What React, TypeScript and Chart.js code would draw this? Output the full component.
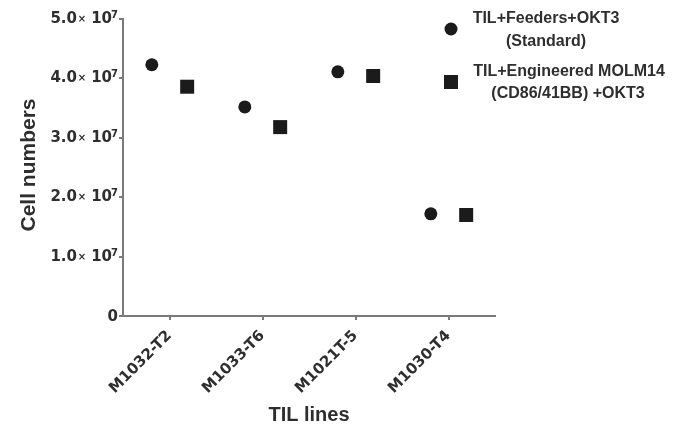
import React, { useEffect, useRef } from "react";
import { Chart, registerables } from "chart.js";

Chart.register(...registerables);

const categories = ["M1032-T2", "M1033-T6", "M1021T-5", "M1030-T4"];
const standardValues = [4.23e7, 3.52e7, 4.11e7, 1.72e7];
const engineeredValues = [3.86e7, 3.18e7, 4.04e7, 1.7e7];
const yTickValues = [0, 1e7, 2e7, 3e7, 4e7, 5e7];
const legendStandard = ["TIL+Feeders+OKT3", "(Standard)"];
const legendEngineered = ["TIL+Engineered MOLM14", "(CD86/41BB) +OKT3"];
const xTitle = "TIL lines";
const yTitle = "Cell numbers";

const FONT = '"Liberation Sans", Arial, sans-serif';
const TICKFONT = '"DejaVu Sans", sans-serif';
const TEXT = "#2e2e2e";
const AXIS = "#7a7a7a";
const MARK = "#1b1b1b";
const OFFSET = 0.19;

export default function App() {
  const ref = useRef<HTMLCanvasElement | null>(null);

  useEffect(() => {
    if (!ref.current) return;
    const overlay = {
      id: "overlay",
      afterDraw(chart: any) {
        const ctx = chart.ctx;
        ctx.save();
        ctx.fillStyle = TEXT;
        // y tick labels (mantissa x 10^7)
        const ys = chart.scales.y;
        const R = ys.right - 5;
        yTickValues.forEach((v) => {
          const ty = ys.getPixelForValue(v);
          ctx.textBaseline = "alphabetic";
          ctx.textAlign = "right";
          if (v === 0) {
            ctx.font = `bold 15px ${TICKFONT}`;
            ctx.fillText("0", R, ty + 5);
            return;
          }
          const mant = (v / 1e7).toFixed(1);
          ctx.font = `bold 10px ${TICKFONT}`;
          ctx.fillText("7", R, ty - 1);
          ctx.font = `bold 15px ${TICKFONT}`;
          ctx.fillText("10", R - 6, ty + 4);
          ctx.font = `bold 10px ${TICKFONT}`;
          ctx.textAlign = "center";
          ctx.fillText("\u00d7", R - 36, ty + 3);
          ctx.font = `bold 15px ${TICKFONT}`;
          ctx.textAlign = "right";
          ctx.fillText(mant, R - 41, ty + 4);
        });
        // y title
        ctx.font = `bold 21px ${FONT}`;
        ctx.textAlign = "center";
        ctx.textBaseline = "alphabetic";
        ctx.save();
        ctx.translate(35, 165);
        ctx.rotate(-Math.PI / 2);
        ctx.fillText(yTitle, 0, 0);
        ctx.restore();
        // x title
        ctx.font = `bold 20px ${FONT}`;
        ctx.fillText(xTitle, 309, 421);
        // legend
        ctx.fillStyle = MARK;
        ctx.beginPath();
        ctx.arc(451, 29, 6.5, 0, Math.PI * 2);
        ctx.fill();
        ctx.fillRect(444, 75, 14, 14);
        ctx.fillStyle = TEXT;
        ctx.font = `bold 16px ${FONT}`;
        ctx.textBaseline = "middle";
        ctx.fillText(legendStandard[0], 546, 19);
        ctx.fillText(legendStandard[1], 546, 42);
        ctx.fillText(legendEngineered[0], 569, 72);
        ctx.fillText(legendEngineered[1], 568, 94);
        ctx.restore();
      },
    };

    const chart = new Chart(ref.current, {
      type: "scatter",
      data: {
        datasets: [
          {
            label: legendStandard.join(" "),
            data: standardValues.map((v, i) => ({ x: i - OFFSET, y: v })),
            pointStyle: "circle",
            pointRadius: 6.5,
            backgroundColor: MARK,
            borderColor: MARK,
            borderWidth: 0,
          },
          {
            label: legendEngineered.join(" "),
            data: engineeredValues.map((v, i) => ({ x: i + OFFSET, y: v })),
            pointStyle: "rect",
            pointRadius: 9.9,
            backgroundColor: MARK,
            borderColor: MARK,
            borderWidth: 0,
          },
        ],
      },
      options: {
        animation: false,
        responsive: false,
        maintainAspectRatio: false,
        layout: { padding: { left: 0, top: 19, right: 189, bottom: 0 } },
        plugins: { legend: { display: false }, tooltip: { enabled: false } },
        scales: {
          x: {
            type: "linear",
            min: -0.5,
            max: 3.5,
            afterBuildTicks: (scale: any) => {
              scale.ticks = categories.map((_, i) => ({ value: i }));
            },
            afterFit: (scale: any) => {
              scale.height = 109;
            },
            border: { display: true, color: AXIS, width: 2 },
            grid: {
              display: true,
              drawOnChartArea: false,
              drawTicks: true,
              tickLength: 4,
              color: AXIS,
              lineWidth: 2,
            },
            ticks: {
              autoSkip: false,
              maxRotation: 45,
              minRotation: 45,
              padding: 7,
              color: TEXT,
              font: { family: TICKFONT, size: 15, weight: "bold" },
              callback: (v: any) => categories[Math.round(Number(v))] ?? "",
            },
          },
          y: {
            min: 0,
            max: 5e7,
            afterBuildTicks: (scale: any) => {
              scale.ticks = yTickValues.map((v) => ({ value: v }));
            },
            afterFit: (scale: any) => {
              scale.width = 123;
            },
            border: { display: true, color: AXIS, width: 2 },
            grid: {
              display: true,
              drawOnChartArea: false,
              drawTicks: true,
              tickLength: 4,
              color: AXIS,
              lineWidth: 2,
            },
            ticks: {
              display: false,
            },
          },
        },
      },
      plugins: [overlay],
    } as any);
    return () => chart.destroy();
  }, []);

  return (
    <div style={{ position: "fixed", left: 0, top: 0, width: 684, height: 425, background: "#fff" }}>
      <canvas ref={ref} width={684} height={425} style={{ width: 684, height: 425, display: "block" }} />
    </div>
  );
}
